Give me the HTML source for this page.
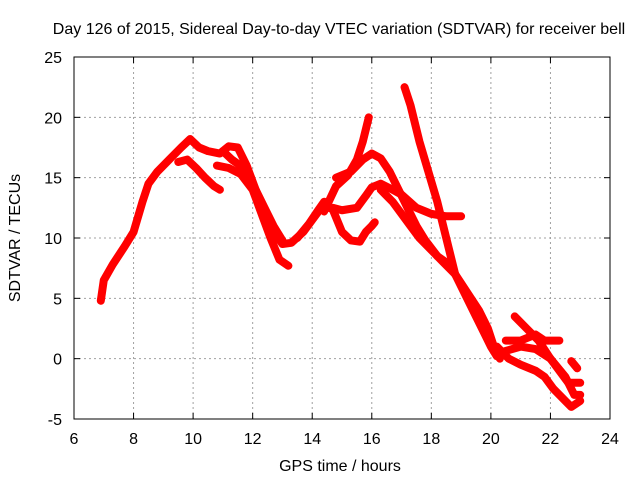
<!DOCTYPE html>
<html><head><meta charset="utf-8"><style>
body{margin:0;background:#fff}
svg{display:block;font-family:"Liberation Sans",sans-serif}
</style></head><body>
<svg id="chart" width="640" height="480">
<g id="grid"></g>
<g id="data"></g>
<rect x="74" y="57" width="536" height="362" fill="none" stroke="#000" stroke-width="1"/>
<g id="ticks"></g>
<text x="339" y="34" text-anchor="middle" font-size="16">Day 126 of 2015, Sidereal Day-to-day VTEC variation (SDTVAR) for receiver bell</text>
<text x="340" y="471" text-anchor="middle" font-size="16">GPS time / hours</text>
<text transform="translate(20,238) rotate(-90)" text-anchor="middle" font-size="16">SDTVAR / TECUs</text>
</svg>
<script>
const xTicks=[6,8,10,12,14,16,18,20,22,24];
const yTicks=[-5,0,5,10,15,20,25];
const track1=[[6.9,4.8],[7.0,6.5],[7.3,7.8],[7.7,9.3],[8.0,10.5],[8.3,13],[8.5,14.5],[8.8,15.5],[9.2,16.5],[9.6,17.5],[9.9,18.2],[10.2,17.5],[10.5,17.2],[10.9,17.0],[11.2,17.6],[11.5,17.5],[11.8,16],[12.1,14],[12.4,12],[12.7,10.5],[13.0,9.5],[13.3,9.6],[13.7,10.5],[14.0,11.5],[14.3,12.5],[14.7,12.5],[15.0,12.3],[15.5,12.5],[15.8,13.5],[16.0,14.2],[16.3,14.5],[16.7,14],[17,13.6],[17.5,12.5],[18,12],[18.5,11.8],[19,11.8]];
const track2=[[9.5,16.3],[9.8,16.5],[10.1,15.8],[10.4,15],[10.7,14.3],[10.9,14]];
const track3=[[10.8,16],[11.2,15.8],[11.6,15.3],[12,14],[12.3,12],[12.6,10],[12.9,8.2],[13.2,7.7]];
const track4=[[11.0,17.2],[11.3,16.5],[11.7,15.8],[12,14.5],[12.4,12.5],[12.7,11],[13,9.8]];
const track5=[[13.5,10],[13.9,11.2],[14.2,12.3],[14.4,13],[14.7,12.3],[15.0,10.5],[15.3,9.8],[15.6,9.7],[15.8,10.5],[16.0,11],[16.1,11.3]];
const track6=[[14.4,12.2],[14.8,14.3],[15.2,15.2],[15.5,16.5],[15.7,18],[15.9,20]];
const track7=[[14.8,15],[15.3,15.5],[15.7,16.5],[16.0,17],[16.3,16.6],[16.6,15.5],[16.9,14],[17.2,12.5],[17.5,11],[17.8,9.8],[18.2,8.5],[18.6,7.8]];
const track8=[[16.3,14],[16.7,13],[17,12],[17.3,11],[17.6,10],[18,9],[18.4,8],[18.8,7]];
const track9=[[17.1,22.5],[17.3,21],[17.6,18],[17.9,15.5],[18.2,13],[18.4,11],[18.6,9],[18.8,7],[19.2,5.5],[19.6,4],[19.9,2.5],[20.1,1],[20.3,0]];
const track10=[[18.8,7],[19.2,5],[19.5,3.5],[19.8,2],[20,1],[20.2,0.2]];
const track11=[[20.2,1],[20.6,0],[21,-0.5],[21.5,-1],[21.8,-1.5],[22.1,-2.5],[22.5,-3.5],[22.7,-4],[23,-3.5]];
const track12=[[20.5,1.5],[21,1.5],[21.5,2],[21.8,1.5],[22.3,1.5]];
const track13=[[20.8,3.5],[21.2,2.5],[21.6,1.5],[22,0],[22.3,-1],[22.6,-2],[23,-2]];
const track14=[[22.7,-0.2],[22.9,-0.8]];
const track15=[[20.3,0.5],[21,1],[21.5,0.8],[22,0],[22.5,-1.5],[22.8,-3.0],[23,-3]];
const tracks=[track1,track2,track3,track4,track5,track6,track7,track8,track9,track10,track11,track12,track13,track14,track15];
const X0=74,X1=610,Y0=419,Y1=57;
function sx(v){return X0+(v-6)/(24-6)*(X1-X0);}
function sy(v){return Y0-(v+5)/(25+5)*(Y0-Y1);}
const NS="http://www.w3.org/2000/svg";
const grid=document.getElementById('grid'),ticks=document.getElementById('ticks'),dg=document.getElementById('data');
function mk(tag,at,parent){const e=document.createElementNS(NS,tag);for(const k in at)e.setAttribute(k,at[k]);parent.appendChild(e);return e;}
xTicks.forEach(t=>{const x=sx(t);
 if(t>6&&t<24){const g=mk('line',{x1:x,x2:x,y1:Y1,y2:Y0,stroke:'#a0a0a0','stroke-dasharray':'2,3'},grid);
 
 }
 mk('line',{x1:x,x2:x,y1:Y0,y2:Y0-6,stroke:'#000'},ticks);mk('line',{x1:x,x2:x,y1:Y1,y2:Y1+6,stroke:'#000'},ticks);
 const l=mk('text',{x:x,y:Y0+25,'text-anchor':'middle','font-size':16},ticks);l.textContent=t;
 
 });
yTicks.forEach(t=>{const y=sy(t);
 if(t>-5&&t<25){const g=mk('line',{x1:X0,x2:X1,y1:y,y2:y,stroke:'#a0a0a0','stroke-dasharray':'2,3'},grid);
 
 }
 mk('line',{x1:X0,x2:X0+6,y1:y,y2:y,stroke:'#000'},ticks);mk('line',{x1:X1,x2:X1-6,y1:y,y2:y,stroke:'#000'},ticks);
 const l=mk('text',{x:X0-12,y:y+6,'text-anchor':'end','font-size':16},ticks);l.textContent=t;
 
 });
tracks.forEach((tr,i)=>{
 const p=mk('polyline',{points:tr.map(d=>sx(d[0])+','+sy(d[1])).join(' '),fill:'none',stroke:'#ff0000','stroke-width':8,'stroke-linejoin':'round','stroke-linecap':'round'},dg);
 
 
});
</script>
</body></html>
